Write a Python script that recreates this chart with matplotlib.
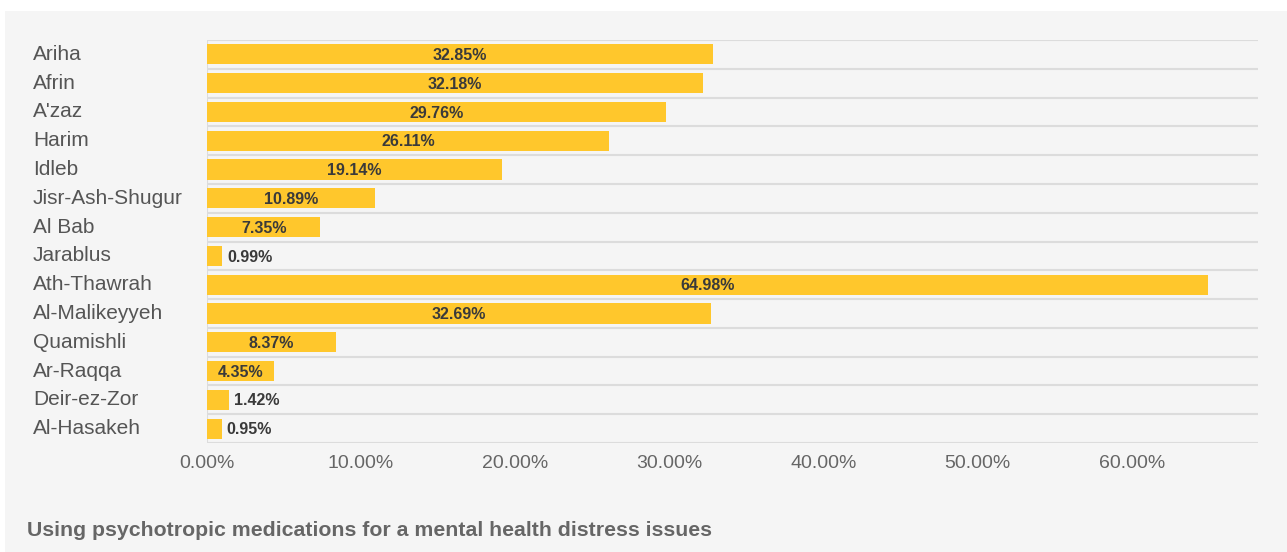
import matplotlib
matplotlib.use("Agg")
import matplotlib.pyplot as plt
from matplotlib.patches import Rectangle
import matplotlib.transforms as mtransforms

categories = ["Ariha", "Afrin", "A'zaz", "Harim", "Idleb", "Jisr-Ash-Shugur", "Al Bab",
              "Jarablus", "Ath-Thawrah", "Al-Malikeyyeh", "Quamishli", "Ar-Raqqa",
              "Deir-ez-Zor", "Al-Hasakeh"]
values = [32.85, 32.18, 29.76, 26.11, 19.14, 10.89, 7.35, 0.99, 64.98, 32.69, 8.37, 4.35, 1.42, 0.95]
xticks = [0, 10, 20, 30, 40, 50, 60]
title = "Using psychotropic medications for a mental health distress issues"

W, H = 1287, 552
fig = plt.figure(figsize=(W / 100, H / 100), dpi=100)
fig.patch.set_facecolor("white")
fig.patches.append(Rectangle((5 / W, 0), 1 - 5 / W, 1 - 11 / H, transform=fig.transFigure,
                             facecolor="#f5f5f5", edgecolor="none", zorder=-10))

font = "Liberation Sans"
ax = fig.add_axes([207 / W, 1 - 443 / H, (1258 - 207) / W, (443 - 40) / H])
ax.set_facecolor("none")
n = len(categories)
ys = list(range(n))
ax.barh(ys, values, height=0.7, color="#ffc72c", zorder=2)
ax.set_ylim(n - 0.5, -0.5)
ax.set_xlim(0, 68.2)

for b in range(n + 1):
    ax.axhline(b - 0.5, color="#dcdcdc", lw=1.5, zorder=1)
ax.axvline(0, color="#dcdcdc", lw=1.5, zorder=1)

for y, v in zip(ys, values):
    txt = f"{v:.2f}%"
    if v > 3:
        ax.text(v / 2, y + 0.04, txt, ha="center", va="center", fontsize=11.5,
                fontweight="bold", color="#3a3a3a", family=font, zorder=3)
    else:
        ax.text(v + 0.3, y + 0.04, txt, ha="left", va="center", fontsize=11.5,
                fontweight="bold", color="#3a3a3a", family=font, zorder=3)

for s in ax.spines.values():
    s.set_visible(False)
ax.set_xticks(xticks)
ax.set_xticklabels([f"{t:.2f}%" for t in xticks], fontsize=14, color="#666666", family=font)
ax.tick_params(axis="x", length=0, pad=9)
ax.set_yticks(ys)
ax.set_yticklabels([])
ax.tick_params(axis="y", length=0)
trans = mtransforms.blended_transform_factory(fig.transFigure, ax.transData)
for y, c in zip(ys, categories):
    ax.text(33 / W, y, c, transform=trans,
            ha="left", va="center", fontsize=15, color="#555555", family=font)

fig.text(27 / W, 1 - 530 / H, title, ha="left", va="center", fontsize=15.3,
         fontweight="bold", color="#666666", family=font)

fig.savefig("out.png", dpi=100, facecolor=fig.get_facecolor())
